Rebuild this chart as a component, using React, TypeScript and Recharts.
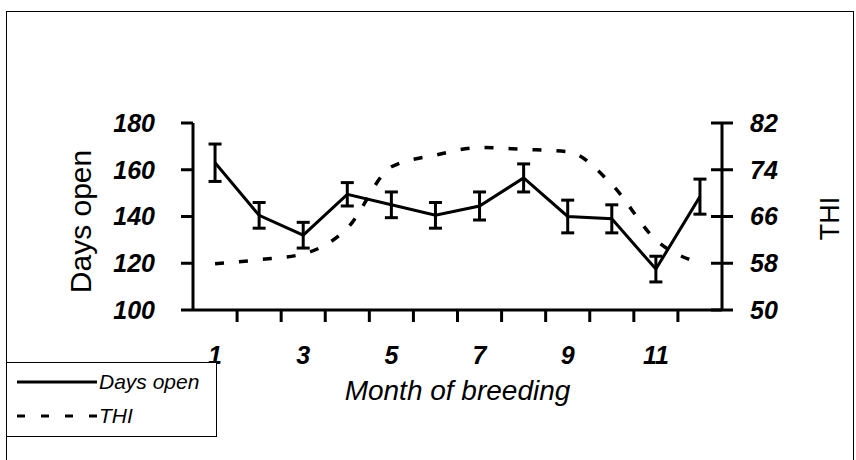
import React from "react"
import { ComposedChart, Line, XAxis, YAxis, ErrorBar, Legend } from "recharts"

const months = [1, 2, 3, 4, 5, 6, 7, 8, 9, 10, 11, 12]
const daysOpen = [163, 140.5, 132, 149.5, 145, 140.5, 144.5, 156.5, 140, 139, 117.5, 148.5]
const daysOpenErr = [8, 5.5, 5.5, 5, 5.5, 5.5, 6, 6, 7, 6, 5.5, 7.5]
const thi = [57.9, 58.6, 59.6, 64, 74.5, 76.5, 77.8, 77.5, 77.1, 71.5, 62, 58]

const leftTicks = [100, 120, 140, 160, 180]
const rightTicks = [50, 58, 66, 74, 82]
const monthLabels = [1, 3, 5, 7, 9, 11]
const monthBoundaries = [1.5, 2.5, 3.5, 4.5, 5.5, 6.5, 7.5, 8.5, 9.5, 10.5, 11.5]

const data = months.map((m, i) => ({
  month: m,
  daysOpen: daysOpen[i],
  err: daysOpenErr[i],
  thi: thi[i],
}))

const FONT = "'Liberation Sans', Arial, sans-serif"
const tickFont = { fill: "#000", fontSize: 25, fontWeight: 700, fontStyle: "italic", fontFamily: FONT }

const RIGHT_TICK_HALF = 11
const RIGHT_TICK_GAP = 28

// x axis: labels on odd months, tick marks on the boundaries between months
const MonthTick = (props: any) => {
  const { x, y, payload } = props
  const v = payload.value
  if (Number.isInteger(v)) {
    return (
      <text x={x} y={y + 54} textAnchor="middle" style={tickFont}>
        {v}
      </text>
    )
  }
  return <line x1={x} x2={x} y1={y} y2={y + 12} stroke="#000" strokeWidth={3} />
}

// right axis ticks cross the axis line
const RightTick = (props: any) => {
  const { x, y, payload } = props
  const ax = x - RIGHT_TICK_GAP
  return (
    <g>
      <line x1={ax - RIGHT_TICK_HALF} x2={ax + RIGHT_TICK_HALF} y1={y} y2={y} stroke="#000" strokeWidth={3} />
      <text x={x} y={y} dy="0.35em" textAnchor="start" style={tickFont}>
        {payload.value}
      </text>
    </g>
  )
}

const LegendBox = () => (
  <div
    style={{
      width: 211,
      height: 75,
      boxSizing: "border-box",
      border: "1.5px solid #000",
      background: "#fff",
      fontFamily: FONT,
      fontStyle: "italic",
      fontSize: 21,
      color: "#000",
    }}
  >
    <div style={{ display: "flex", alignItems: "center", height: 38 }}>
      <svg width={92} height={10} style={{ marginLeft: 0 }}>
        <line x1={10} x2={90} y1={5} y2={5} stroke="#000" strokeWidth={3} />
      </svg>
      <span>Days open</span>
    </div>
    <div style={{ display: "flex", alignItems: "center", height: 30 }}>
      <svg width={92} height={10}>
        <line x1={10} x2={90} y1={5} y2={5} stroke="#000" strokeWidth={3} strokeDasharray="8 16" />
      </svg>
      <span>THI</span>
    </div>
  </div>
)

export default function App() {
  return (
    <div style={{ position: "absolute", left: 0, top: 0, width: 856, height: 460, background: "#fff", overflow: "hidden" }}>
      <div
        style={{
          position: "absolute",
          left: 6,
          top: 11,
          width: 846,
          height: 460,
          borderTop: "1.5px solid #000",
          borderLeft: "1.5px solid #000",
          borderRight: "1.5px solid #000",
        }}
      />
      <div style={{ position: "absolute", left: 0, top: 0 }}>
        <ComposedChart width={856} height={460} data={data} margin={{ top: 123, right: 14, bottom: 0, left: 113 }}>
          <XAxis
            dataKey="month"
            type="number"
            domain={[0.5, 12.5]}
            ticks={[...monthLabels, ...monthBoundaries].sort((a, b) => a - b)}
            interval={0}
            height={150}
            axisLine={{ stroke: "#000", strokeWidth: 3 }}
            tickLine={false}
            tickSize={0}
            tickMargin={0}
            tick={<MonthTick />}
            label={{
              content: ({ viewBox }: any) => (
                <text
                  x={viewBox.x + viewBox.width / 2}
                  y={viewBox.y + 90}
                  textAnchor="middle"
                  style={{ fontFamily: FONT, fontStyle: "italic", fontSize: 28, fill: "#000" }}
                >
                  Month of breeding
                </text>
              ),
            }}
          />
          <YAxis
            yAxisId="left"
            domain={[100, 180]}
            ticks={leftTicks}
            width={80}
            axisLine={{ stroke: "#000", strokeWidth: 3 }}
            tickLine={{ stroke: "#000", strokeWidth: 3 }}
            tickSize={12}
            tickMargin={26}
            tick={tickFont}
            label={{
              content: ({ viewBox }: any) => {
                const cx = viewBox.x - 33
                const cy = viewBox.y + viewBox.height / 2 + 5
                return (
                  <text
                    x={cx}
                    y={cy}
                    transform={`rotate(-90, ${cx}, ${cy})`}
                    textAnchor="middle"
                    dominantBaseline="central"
                    style={{ fontFamily: FONT, fontSize: 30, fill: "#000" }}
                  >
                    Days open
                  </text>
                )
              },
            }}
          />
          <YAxis
            yAxisId="right"
            orientation="right"
            domain={[50, 82]}
            ticks={rightTicks}
            width={120}
            axisLine={{ stroke: "#000", strokeWidth: 3 }}
            tickLine={false}
            tickSize={0}
            tickMargin={RIGHT_TICK_GAP}
            tick={<RightTick />}
            label={{
              content: ({ viewBox }: any) => {
                const cx = viewBox.x + 108
                const cy = viewBox.y + viewBox.height / 2 + 2
                return (
                  <text
                    x={cx}
                    y={cy}
                    transform={`rotate(-90, ${cx}, ${cy})`}
                    textAnchor="middle"
                    dominantBaseline="central"
                    style={{ fontFamily: FONT, fontSize: 27, fill: "#000" }}
                  >
                    THI
                  </text>
                )
              },
            }}
          />
          <Legend
            layout="vertical"
            align="center"
            verticalAlign="middle"
            wrapperStyle={{ left: 6, top: 362, width: 211, height: 75 }}
            content={<LegendBox />}
          />
          <Line
            yAxisId="right"
            dataKey="thi"
            name="THI"
            type="monotone"
            stroke="#000"
            strokeWidth={3.5}
            strokeDasharray="9 15"
            dot={false}
            isAnimationActive={false}
          />
          <Line
            yAxisId="left"
            dataKey="daysOpen"
            name="Days open"
            type="linear"
            stroke="#000"
            strokeWidth={3}
            dot={false}
            isAnimationActive={false}
          >
            <ErrorBar dataKey="err" direction="y" width={6.5} stroke="#000" strokeWidth={3} isAnimationActive={false} />
          </Line>
        </ComposedChart>
      </div>
    </div>
  )
}
